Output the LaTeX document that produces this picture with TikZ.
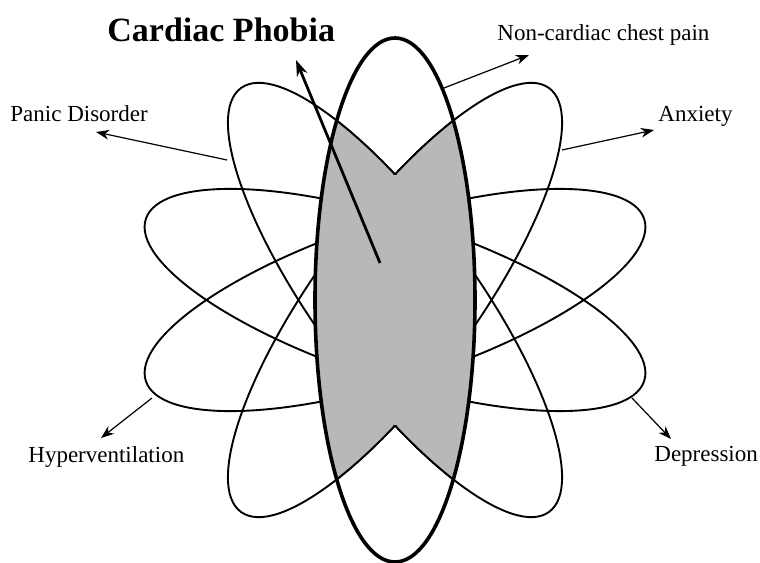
\documentclass[tikz,border=0pt]{standalone}
\usepackage{fontspec}
\setmainfont{Liberation Serif}
\usetikzlibrary{arrows.meta}
\begin{document}
\begin{tikzpicture}[x=0.5pt,y=0.5pt,
  orbit/.style={line width=0.95pt},
  mainorbit/.style={line width=1.8pt},
  shade/.style={fill=black!28},
  lbl/.style={inner sep=0pt, anchor=base west, font=\fontsize{11.5}{13}\selectfont},
  ptr/.style={line width=0.6pt, -{Stealth[length=6.5pt,width=4.8pt,inset=2pt]}},
  bigptr/.style={line width=1.4pt, -{Stealth[length=8pt,width=5.5pt,inset=2.5pt]}}]
\useasboundingbox (0,0) rectangle (760,562);
\coordinate (C) at (395,262);
% outer orbits
\draw[orbit, rotate around={36:(C)}]  (C) ellipse[x radius=80, y radius=262];
\draw[orbit, rotate around={-36:(C)}] (C) ellipse[x radius=80, y radius=262];
\draw[orbit, rotate around={72:(C)}]  (C) ellipse[x radius=80, y radius=262];
\draw[orbit, rotate around={-72:(C)}] (C) ellipse[x radius=80, y radius=262];
% shaded overlap inside the central orbit
\begin{scope}
  \clip (C) ellipse[x radius=80, y radius=262];
  \fill[shade, rotate around={36:(C)}]  (C) ellipse[x radius=80, y radius=262];
  \fill[shade, rotate around={-36:(C)}] (C) ellipse[x radius=80, y radius=262];
\end{scope}
% V-shaped borders of the shaded region
\begin{scope}
  \clip (C) ellipse[x radius=80, y radius=262];
  \clip (0,387.5) rectangle (760,562);
  \draw[orbit, rotate around={36:(C)}]  (C) ellipse[x radius=80, y radius=262];
  \draw[orbit, rotate around={-36:(C)}] (C) ellipse[x radius=80, y radius=262];
\end{scope}
\begin{scope}
  \clip (C) ellipse[x radius=80, y radius=262];
  \clip (0,0) rectangle (760,136.5);
  \draw[orbit, rotate around={36:(C)}]  (C) ellipse[x radius=80, y radius=262];
  \draw[orbit, rotate around={-36:(C)}] (C) ellipse[x radius=80, y radius=262];
\end{scope}
% central orbit
\draw[mainorbit] (C) ellipse[x radius=80, y radius=262];
% labels
\node[lbl, font=\fontsize{17}{20}\selectfont\bfseries] (cp) at (107,520) {Cardiac Phobia};
\node[lbl] (ncp) at (497,521) {Non-cardiac chest pain};
\node[lbl] (pd) at (10,440) {Panic Disorder};
\node[lbl] (anx) at (658,440) {Anxiety};
\node[lbl] (hyp) at (28,99) {Hyperventilation};
\node[lbl] (dep) at (654,100) {Depression};
% pointer coordinates
\coordinate (cpS) at (380,299);  \coordinate (cpT) at (296,502);
\coordinate (ncpS) at (444,474); \coordinate (ncpT) at (529,507);
\coordinate (pdS) at (227,402);  \coordinate (pdT) at (96,430);
\coordinate (anxS) at (562,412); \coordinate (anxT) at (654,432);
\coordinate (hypS) at (152,164); \coordinate (hypT) at (101,124);
\coordinate (depS) at (632,164); \coordinate (depT) at (671,123);
\draw[bigptr] (cpS) -- (cpT);
\draw[ptr] (ncpS) -- (ncpT);
\draw[ptr] (pdS) -- (pdT);
\draw[ptr] (anxS) -- (anxT);
\draw[ptr] (hypS) -- (hypT);
\draw[ptr] (depS) -- (depT);
\end{tikzpicture}
\end{document}
